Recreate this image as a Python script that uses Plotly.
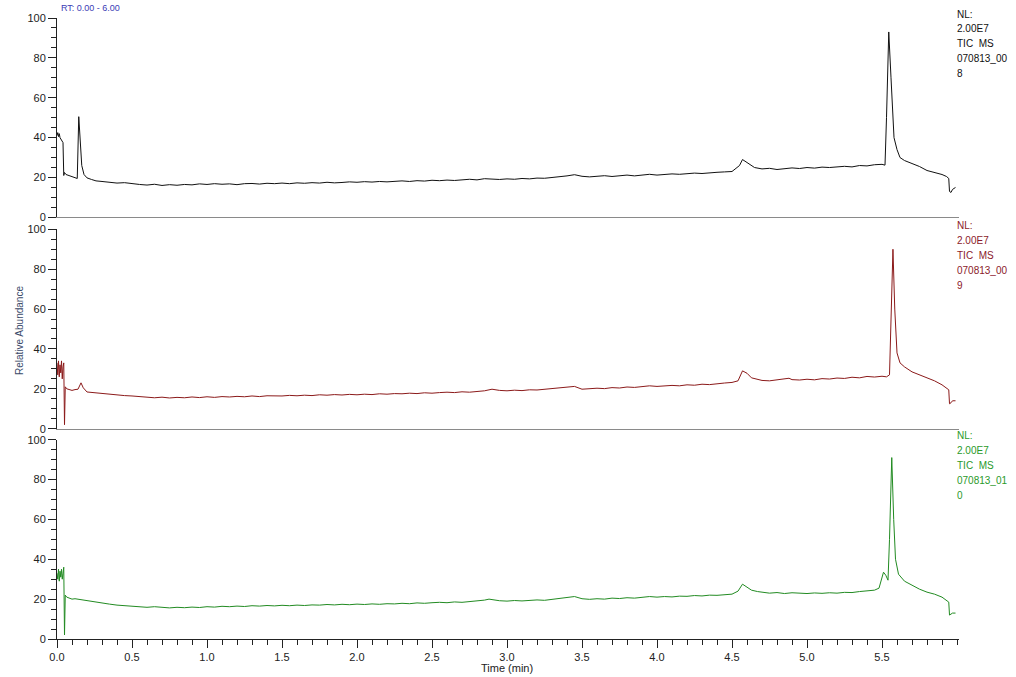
import plotly.graph_objects as go

# ---------------- data ----------------
t_008 = [0.000, 0.005, 0.010, 0.015, 0.020, 0.025, 0.030, 0.035, 0.040, 0.045, 0.050, 0.060, 0.080, 0.100,
         0.120, 0.135, 0.145, 0.155, 0.165, 0.180, 0.200, 0.230, 0.260,
         0.30, 0.35, 0.40, 0.45, 0.50, 0.55, 0.60, 0.65, 0.70, 0.75, 0.80, 0.85, 0.90, 0.95,
         1.00, 1.05, 1.10, 1.15, 1.20, 1.25, 1.30, 1.35, 1.40, 1.45, 1.50, 1.55, 1.60, 1.65, 1.70, 1.75,
         1.80, 1.85, 1.90, 1.95, 2.00, 2.05, 2.10, 2.15, 2.20, 2.25, 2.30, 2.35, 2.40, 2.45, 2.50, 2.55,
         2.60, 2.65, 2.70, 2.75, 2.80, 2.85, 2.90, 2.95, 3.00, 3.05, 3.10, 3.15, 3.20, 3.25, 3.30, 3.35,
         3.40, 3.45, 3.50, 3.55, 3.60, 3.65, 3.70, 3.75, 3.80, 3.85, 3.90, 3.95, 4.00, 4.05, 4.10, 4.15,
         4.20, 4.25, 4.30, 4.35, 4.40, 4.45, 4.50, 4.55, 4.57, 4.60, 4.65, 4.70, 4.75, 4.80, 4.85, 4.90,
         4.95, 5.00, 5.05, 5.10, 5.15, 5.20, 5.25, 5.30, 5.35, 5.40, 5.45, 5.50, 5.52, 5.53, 5.545, 5.56,
         5.58, 5.60, 5.62, 5.65, 5.70, 5.75, 5.80, 5.85, 5.90, 5.93, 5.945, 5.95, 5.96, 5.97, 5.99]
y_008 = [41.0, 42.5, 40.5, 42.0, 40.0, 39.5, 38.5, 38.0, 37.5, 21.0, 22.5, 21.5, 21.0, 20.5,
         20.0, 19.5, 50.5, 38.0, 26.0, 21.5, 19.8, 19.0, 18.3,
         18.0, 17.6, 17.2, 17.4, 16.8, 16.5, 16.2, 16.6, 16.0, 16.4, 16.1, 16.5, 16.3, 16.8,
         16.5, 16.9, 16.6, 16.8, 16.4, 16.9, 17.0, 16.7, 17.1, 16.9, 17.2, 16.9, 17.3, 17.1, 17.4, 17.2,
         17.6, 17.3, 17.5, 17.8, 17.6, 17.9, 17.7, 18.0, 17.8, 18.1, 18.3, 18.0, 18.4, 18.2, 18.6, 18.4,
         18.7, 18.5, 18.9, 19.1, 18.8, 19.4, 19.2, 19.0, 19.3, 19.1, 19.5, 19.3, 19.7, 19.6, 20.0, 20.3,
         20.8, 21.4, 20.6, 20.3, 20.6, 20.9, 20.5, 21.0, 21.2, 20.8, 21.3, 21.6, 21.2, 21.5, 21.8, 21.6,
         22.0, 22.2, 22.0, 22.4, 22.6, 22.8, 23.0, 26.0, 29.0, 27.5, 25.0, 24.3, 24.6, 24.0, 24.4, 24.8,
         24.5, 25.0, 24.7, 25.2, 25.0, 25.4, 25.6, 25.3, 26.0, 25.8, 26.4, 26.6, 26.2, 50.0, 93.0, 70.0,
         40.0, 34.0, 30.0, 28.5, 27.0, 25.5, 23.5, 22.5, 21.5, 20.5, 19.5, 13.0, 12.5, 14.0, 15.0]

t_009 = [0.000, 0.005, 0.010, 0.015, 0.020, 0.025, 0.030, 0.035, 0.040, 0.045, 0.050, 0.055, 0.065,
         0.080, 0.100, 0.120, 0.140, 0.160, 0.175, 0.200, 0.250,
         0.30, 0.35, 0.40, 0.45, 0.50, 0.55, 0.60, 0.65, 0.70, 0.75, 0.80, 0.85, 0.90, 0.95,
         1.00, 1.05, 1.10, 1.15, 1.20, 1.25, 1.30, 1.35, 1.40, 1.45, 1.50, 1.55, 1.60, 1.65, 1.70, 1.75,
         1.80, 1.85, 1.90, 1.95, 2.00, 2.05, 2.10, 2.15, 2.20, 2.25, 2.30, 2.35, 2.40, 2.45, 2.50, 2.55,
         2.60, 2.65, 2.70, 2.75, 2.80, 2.85, 2.90, 2.95, 3.00, 3.05, 3.10, 3.15, 3.20, 3.25, 3.30, 3.35,
         3.40, 3.45, 3.50, 3.55, 3.60, 3.65, 3.70, 3.75, 3.80, 3.85, 3.90, 3.95, 4.00, 4.05, 4.10, 4.15,
         4.20, 4.25, 4.30, 4.35, 4.40, 4.45, 4.50, 4.54, 4.57, 4.60, 4.63, 4.67, 4.70, 4.75, 4.80, 4.85,
         4.88, 4.90, 4.95, 5.00, 5.05, 5.10, 5.15, 5.20, 5.25, 5.30, 5.35, 5.40, 5.45, 5.50, 5.53, 5.55,
         5.56, 5.573, 5.585, 5.60, 5.62, 5.65, 5.70, 5.75, 5.80, 5.85, 5.90, 5.93, 5.945, 5.95, 5.96,
         5.97, 5.99]
y_009 = [33.0, 27.0, 34.0, 26.0, 32.0, 28.0, 34.0, 25.0, 31.0, 33.0, 2.0, 21.0, 20.0,
         19.5, 19.2, 19.6, 19.8, 23.0, 20.5, 18.4, 18.0,
         17.6, 17.3, 16.9, 16.6, 16.4, 16.0, 15.8, 15.5, 15.8, 15.4, 15.7, 15.5, 15.9, 15.6,
         16.0, 15.7, 16.1, 15.9, 16.2, 16.0, 16.4, 16.1, 16.5, 16.3, 16.4, 16.7, 16.5, 16.8, 16.6, 17.0,
         16.8, 17.1, 16.9, 17.2, 17.0, 17.3, 17.1, 17.5, 17.3, 17.6, 17.5, 17.8, 17.6, 18.0, 17.8, 18.1,
         18.3, 18.1, 18.5, 18.3, 18.7, 19.0, 19.8, 19.2, 19.0, 19.3, 19.1, 19.5, 19.4, 19.8, 20.0, 20.4,
         20.9, 21.2, 19.8, 20.0, 20.3, 20.1, 20.6, 20.4, 20.9, 20.7, 21.1, 21.5, 21.2, 21.4, 21.7, 21.5,
         22.0, 21.8, 22.3, 22.1, 22.6, 22.9, 23.2, 24.0, 29.0, 27.8, 25.5, 24.8, 24.2, 24.0, 24.6, 25.0,
         25.3, 24.6, 24.4, 24.8, 24.5, 25.1, 24.9, 25.4, 25.2, 25.8, 25.5, 26.2, 25.9, 26.3, 26.0, 27.0,
         60.0, 90.0, 60.0, 38.0, 33.0, 31.0, 28.5, 27.0, 25.5, 24.0, 22.0, 20.5, 19.5, 12.5, 13.0,
         14.0, 14.0]

t_010 = [0.000, 0.005, 0.010, 0.015, 0.020, 0.025, 0.030, 0.035, 0.040, 0.045, 0.050, 0.055, 0.065,
         0.080, 0.100, 0.120, 0.150, 0.200, 0.250,
         0.30, 0.35, 0.40, 0.45, 0.50, 0.55, 0.60, 0.65, 0.70, 0.75, 0.80, 0.85, 0.90, 0.95,
         1.00, 1.05, 1.10, 1.15, 1.20, 1.25, 1.30, 1.35, 1.40, 1.45, 1.50, 1.55, 1.60, 1.65, 1.70, 1.75,
         1.80, 1.85, 1.90, 1.95, 2.00, 2.05, 2.10, 2.15, 2.20, 2.25, 2.30, 2.35, 2.40, 2.45, 2.50, 2.55,
         2.60, 2.65, 2.70, 2.75, 2.80, 2.85, 2.88, 2.92, 2.95, 3.00, 3.05, 3.10, 3.15, 3.20, 3.25, 3.30,
         3.35, 3.40, 3.45, 3.50, 3.55, 3.60, 3.65, 3.70, 3.75, 3.80, 3.85, 3.90, 3.95, 4.00, 4.05, 4.10,
         4.15, 4.20, 4.25, 4.30, 4.35, 4.40, 4.45, 4.50, 4.54, 4.57, 4.60, 4.63, 4.67, 4.70, 4.75, 4.80,
         4.85, 4.90, 4.95, 5.00, 5.05, 5.10, 5.15, 5.20, 5.25, 5.30, 5.35, 5.40, 5.45, 5.48, 5.50, 5.51,
         5.525, 5.54, 5.55, 5.565, 5.578, 5.59, 5.61, 5.65, 5.70, 5.75, 5.80, 5.85, 5.90, 5.93, 5.945,
         5.95, 5.96, 5.97, 5.99]
y_010 = [33.0, 30.0, 35.0, 29.0, 34.0, 31.0, 35.0, 30.0, 33.0, 36.0, 2.0, 22.0, 21.0,
         20.5, 20.0, 20.2, 19.8, 19.3, 18.6,
         18.0, 17.5, 17.0, 16.8, 16.4, 16.1, 15.9, 16.2, 15.8, 15.6, 15.9, 15.7, 16.0, 15.8,
         16.2, 16.0, 16.4, 16.2, 16.5, 16.3, 16.7, 16.5, 16.8, 16.6, 16.9, 16.7, 17.0, 16.8, 17.1, 17.0,
         17.3, 17.1, 17.4, 17.2, 17.5, 17.3, 17.6, 17.4, 17.7, 17.6, 17.9, 17.7, 18.1, 17.9, 18.2, 18.4,
         18.2, 18.6, 18.4, 18.8, 18.9, 19.5, 20.0, 19.4, 19.2, 19.0, 19.3, 19.1, 19.4, 19.6, 19.4, 19.8,
         20.2, 20.8, 21.3, 20.2, 19.9, 20.2, 20.0, 20.5, 20.3, 20.7, 20.5, 20.9, 21.3, 21.0, 21.3, 21.1,
         21.5, 21.4, 21.8, 21.6, 22.0, 21.9, 22.3, 22.5, 24.0, 27.5, 26.0, 24.5, 23.8, 23.4, 23.0, 23.3,
         22.8, 23.2, 23.0, 22.8, 23.1, 22.9, 23.2, 23.0, 23.4, 23.3, 23.8, 24.0, 24.5, 25.5, 31.0, 33.5,
         32.0, 29.5, 50.0, 91.0, 60.0, 40.0, 32.5, 29.0, 27.0, 25.0, 23.5, 22.5, 21.0, 19.5, 18.5,
         12.0, 12.5, 13.0, 13.0]

series_names = ["070813_008", "070813_009", "070813_010"]
label_lines = [["NL:", "2.00E7", "TIC  MS", "070813_00", "8"],
               ["NL:", "2.00E7", "TIC  MS", "070813_00", "9"],
               ["NL:", "2.00E7", "TIC  MS", "070813_01", "0"]]
y_ticks = [0, 20, 40, 60, 80, 100]
x_ticks = [0.0, 0.5, 1.0, 1.5, 2.0, 2.5, 3.0, 3.5, 4.0, 4.5, 5.0, 5.5]

# ---------------- styling / layout ----------------
W, H = 1016, 677
L, R = 57, 959
TOP, BOT = 16, 639
PH = BOT - TOP
panel_tops = [16, 228, 439]
panel_bots = [216, 428, 639]
line_colors = ["#111111", "#8b1a1a", "#228b22"]
text_colors = ["#111111", "#8b1a2a", "#2a9a2a"]
FONT = "Arial, Liberation Sans, sans-serif"

def py(p):
    return (BOT - p) / PH

def px(p):
    return (p - L) / (R - L)

fig = go.Figure()
data = [(t_008, y_008), (t_009, y_009), (t_010, y_010)]
for i, (t, y) in enumerate(data):
    fig.add_trace(go.Scatter(x=t, y=y, mode="lines", name=series_names[i],
                             line=dict(color=line_colors[i], width=1),
                             xaxis="x" if i == 0 else f"x{i+1}",
                             yaxis="y" if i == 0 else f"y{i+1}",
                             showlegend=False, hoverinfo="skip"))

layout = dict(width=W, height=H, margin=dict(l=L, r=W - R, t=TOP, b=H - BOT, pad=0),
              paper_bgcolor="white", plot_bgcolor="white",
              font=dict(family=FONT, size=11, color="#222222"), showlegend=False)

xr = [0, (R - L) / 150.0]
for i in range(3):
    xk = "xaxis" if i == 0 else f"xaxis{i+1}"
    yk = "yaxis" if i == 0 else f"yaxis{i+1}"
    ya = "y" if i == 0 else f"y{i+1}"
    xa = "x" if i == 0 else f"x{i+1}"
    last = (i == 2)
    xdict = dict(domain=[0, 1], range=xr, anchor=ya, showgrid=False, zeroline=False,
                 showline=True, linewidth=1,
                 linecolor="#222222" if last else "#8a8a8a")
    if last:
        xdict.update(tickmode="array", tickvals=x_ticks, ticktext=[f"{v:.1f}" for v in x_ticks],
                     ticks="outside", ticklen=8, tickwidth=1, tickcolor="#222222",
                     minor=dict(tickmode="linear", dtick=0.1, tick0=0, ticks="outside", ticklen=5,
                                tickwidth=1, tickcolor="#222222"),
                     tickfont=dict(size=11, color="#222222"))
    else:
        xdict.update(matches="x3", showticklabels=False, ticks="")
    layout[xk] = xdict
    layout[yk] = dict(domain=[py(panel_bots[i]), py(panel_tops[i])], range=[0, 100], anchor=xa,
                      showgrid=False, zeroline=False, showline=True, linewidth=1,
                      linecolor="#222222", tickmode="array", tickvals=y_ticks,
                      ticks="outside", ticklen=8, tickwidth=1, tickcolor="#222222",
                      minor=dict(tickmode="linear", dtick=5, tick0=0, ticks="outside", ticklen=5,
                                 tickwidth=1, tickcolor="#222222"),
                      tickfont=dict(size=11, color="#222222"))
fig.update_layout(**layout)

ann = []
offsets = [-4, 11, 26, 41, 56]
for i in range(3):
    for line, off in zip(label_lines[i], offsets):
        ann.append(dict(xref="paper", yref="paper", x=px(955), y=py(panel_tops[i] + off),
                        xanchor="left", yanchor="middle", text=line, showarrow=False,
                        font=dict(family=FONT, size=10, color=text_colors[i])))

ann.append(dict(xref="paper", yref="paper", x=px(20), y=py(330), xanchor="center", yanchor="middle",
                text="Relative Abundance", textangle=-90, showarrow=False,
                font=dict(family=FONT, size=10, color="#3a4a6a")))
ann.append(dict(xref="paper", yref="paper", x=px(507), y=py(668), xanchor="center", yanchor="middle",
                text="Time (min)", showarrow=False,
                font=dict(family=FONT, size=11, color="#222222")))
ann.append(dict(xref="paper", yref="paper", x=px(60), y=py(0), xanchor="left", yanchor="top",
                text="RT: 0.00 - 6.00", showarrow=False, borderpad=0,
                font=dict(family=FONT, size=9, color="#3b3bb5")))
fig.update_layout(annotations=ann)

fig.write_html("out.html", config={"displayModeBar": False},
               post_script="document.body.style.margin='0px';document.body.style.padding='0px';")
